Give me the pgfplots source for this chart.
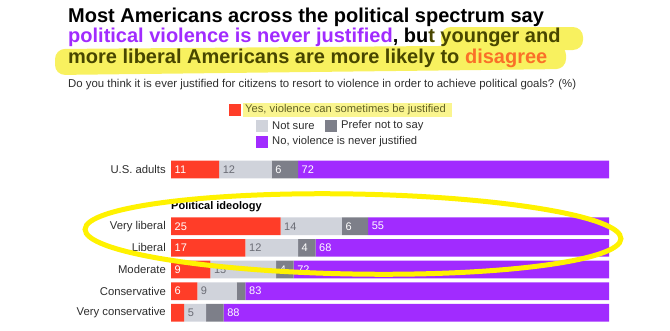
\documentclass[border=0pt]{standalone}
\usepackage{fontspec}
\setmainfont{Liberation Sans}
\usepackage{pgfplots}
\usepackage{pgfplotstable}
\pgfplotsset{compat=1.18}
\definecolor{cRed}{RGB}{255,61,40}
\definecolor{cLt}{RGB}{208,211,219}
\definecolor{cDk}{RGB}{125,127,137}
\definecolor{cPu}{RGB}{161,43,255}
\definecolor{cYel}{RGB}{255,242,0}
\definecolor{cHi}{RGB}{248,241,95}
\definecolor{cOl}{RGB}{72,70,0}
\definecolor{cOr}{RGB}{250,112,40}
\definecolor{cTxt}{RGB}{45,45,45}
% shares (%) per group
\pgfplotstableread{
y    red lt dk pu
6.62 11  12 6  72
4    25  14 6  55
3    17  12 4  68
2    9   15 4  72
1    6   9  2  83
0    3   5  4  88
}\datatable
% value labels shown in the bars: x = where the segment starts
\pgfplotstableread{
x  y    lab
0  6.62 11
23 6.62 6
29 6.62 72
0  4    25
39 4    6
45 4    55
0  3    17
29 3    4
33 3    68
0  2    9
24 2    4
28 2    72
0  1    6
17 1    83
12 0    88
}\labwhite
\pgfplotstableread{
x  y    lab
11 6.62 12
25 4    14
17 3    12
9  2    15
6  1    9
3  0    5
}\labgrey
\begin{document}
\begin{tikzpicture}
\useasboundingbox (0,0) rectangle (670bp,-331bp);
% title highlight bands
\fill[cHi, rounded corners=10bp] (441bp,-27bp) rectangle (583bp,-50bp);
\fill[cHi, rounded corners=10bp] (55bp,-49bp) -- (566bp,-45bp) -- (566bp,-69bp) -- (55bp,-75bp) -- cycle;
% title
\node[anchor=base west, inner sep=0pt, font=\fontsize{20bp}{24bp}\selectfont\bfseries] at (68bp,-22bp) {Most Americans across the political spectrum say};
\node[anchor=base west, inner sep=0pt, font=\fontsize{20bp}{24bp}\selectfont\bfseries] at (68bp,-42.5bp) {\textcolor{cPu}{political violence is never justified}, bu\textcolor{cOl}{t younger and}};
\node[anchor=base west, inner sep=0pt, font=\fontsize{20bp}{24bp}\selectfont\bfseries] at (68bp,-63bp) {\textcolor{cOl}{more liberal Americans are more likely to }\textcolor{cOr}{disagree}};
% subtitle
\node[anchor=base west, inner sep=0pt, font=\fontsize{11.4bp}{13bp}\selectfont, text=cTxt] at (68bp,-87bp) {Do you think it is ever justified for citizens to resort to violence in order to achieve political goals? (\%)};
% legend
\fill[cHi!70] (243bp,-103bp) rectangle (452bp,-117bp);
\fill[cRed] (229bp,-104bp) rectangle (241bp,-116bp);
\node[anchor=west, inner sep=0pt, font=\fontsize{11.2bp}{13bp}\selectfont, text=cOl!85] at (245bp,-110bp) {Yes, violence can sometimes be justified};
\fill[cLt] (256bp,-120bp) rectangle (268bp,-132bp);
\node[anchor=west, inner sep=0pt, font=\fontsize{11.2bp}{13bp}\selectfont, text=cTxt] at (272bp,-126bp) {Not sure};
\fill[cDk] (325bp,-120bp) rectangle (337bp,-132bp);
\node[anchor=west, inner sep=0pt, font=\fontsize{11.2bp}{13bp}\selectfont, text=cTxt] at (341bp,-126bp) {Prefer not to say};
\fill[cPu] (256bp,-136bp) rectangle (268bp,-148bp);
\node[anchor=west, inner sep=0pt, font=\fontsize{11.2bp}{13bp}\selectfont, text=cTxt] at (272bp,-142bp) {No, violence is never justified};
% group heading
\node[anchor=base west, inner sep=0pt, font=\fontsize{11bp}{13bp}\selectfont\bfseries] at (171bp,-209bp) {Political ideology};
\begin{axis}[
  at={(171bp,-325.8bp)}, anchor=south west,
  scale only axis, width=438bp, height=168.87bp,
  xbar stacked, bar width=17.7bp,
  xmin=0, xmax=100, ymin=-0.6, ymax=7.2,
  axis line style={draw=none}, tick style={draw=none},
  xtick=\empty,
  ytick={0,1,2,3,4,6.62},
  yticklabels={Very conservative,Conservative,Moderate,Liberal,Very liberal,U.S. adults},
  yticklabel style={font=\fontsize{11.3bp}{13bp}\selectfont, text=cTxt, inner sep=0pt, xshift=-5bp},
]
\addplot[fill=cRed, draw=none] table[x=red, y=y]{\datatable};
\addplot[fill=cLt, draw=none] table[x=lt, y=y]{\datatable};
\addplot[fill=cDk, draw=none] table[x=dk, y=y]{\datatable};
\addplot[fill=cPu, draw=none] table[x=pu, y=y]{\datatable};
\end{axis}
\begin{axis}[
  at={(171bp,-325.8bp)}, anchor=south west,
  scale only axis, width=438bp, height=168.87bp,
  xmin=0, xmax=100, ymin=-0.6, ymax=7.2,
  hide axis, clip=false,
  point meta=explicit symbolic,
  nodes near coords, nodes near coords align=horizontal,
  every node near coord/.append style={font=\fontsize{11bp}{12bp}\selectfont, anchor=west, inner sep=0pt, xshift=3.5bp},
]
\addplot[draw=none, mark=none, every node near coord/.append style={text=white}] table[x=x, y=y, meta=lab]{\labwhite};
\addplot[draw=none, mark=none, every node near coord/.append style={text=cDk!85!black}] table[x=x, y=y, meta=lab]{\labgrey};
\end{axis}
% annotation ellipse
\draw[cYel, line width=5bp, rotate around={-1:(353bp,-234bp)}] (353bp,-234bp) ellipse [x radius=268bp, y radius=40bp];
\end{tikzpicture}
\end{document}
